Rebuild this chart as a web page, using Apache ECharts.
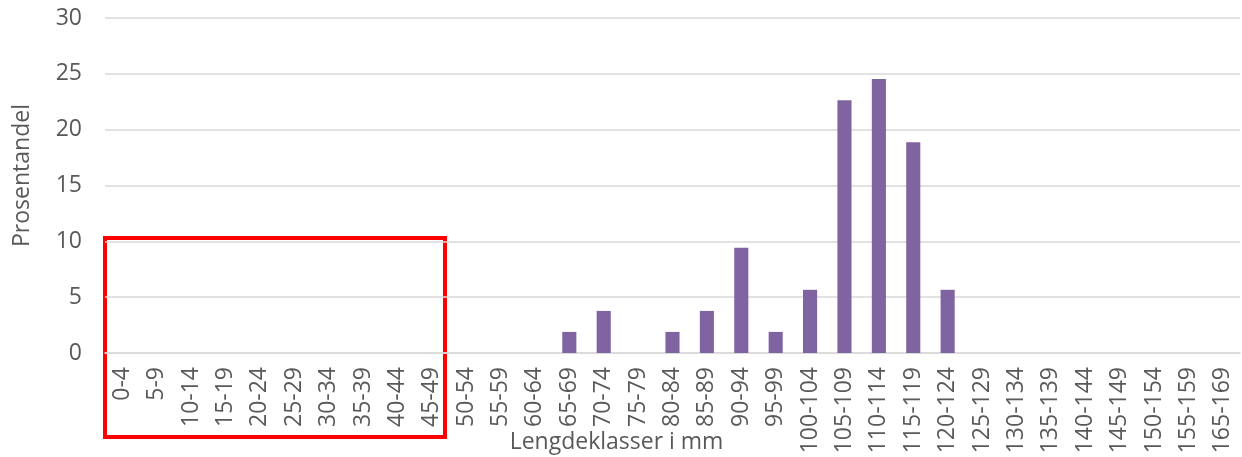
<!DOCTYPE html>
<html>
<head>
<meta charset="utf-8">
<script src="https://cdn.jsdelivr.net/npm/echarts@6/dist/echarts.min.js"></script>
<style>
html,body{margin:0;padding:0;background:#fff;}
#chart{width:1242px;height:457px;}
</style>
</head>
<body>
<div id="chart"></div>
<script>
var categories = ['0-4','5-9','10-14','15-19','20-24','25-29','30-34','35-39','40-44','45-49',
  '50-54','55-59','60-64','65-69','70-74','75-79','80-84','85-89','90-94','95-99',
  '100-104','105-109','110-114','115-119','120-124','125-129','130-134','135-139','140-144','145-149',
  '150-154','155-159','165-169'];
var values = [0,0,0,0,0,0,0,0,0,0,
  0,0,0,1.89,3.77,0,1.89,3.77,9.43,1.89,
  5.66,22.64,24.53,18.87,5.66,0,0,0,0,0,
  0,0,0];
var yTicks = {min:0, max:30, interval:5};
var xTitle = 'Lengdeklasser i mm';
var yTitle = 'Prosentandel';

var chart = echarts.init(document.getElementById('chart'));
var font = 'Open Sans';
chart.setOption({
  animation:false,
  grid:{left:105, right:2, top:18, bottom:104, containLabel:false, outerBoundsMode:'none'},
  xAxis:{
    type:'category', data:categories,
    name:xTitle, nameLocation:'middle', nameGap:78, nameMoveOverlap:false,
    nameTextStyle:{fontFamily:font, fontSize:23, color:'#595959', padding:[0,112,0,0]},
    axisLine:{lineStyle:{color:'#D9D9D9', width:1.5}},
    axisTick:{show:false},
    axisLabel:{rotate:90, interval:0, fontFamily:font, fontSize:23, color:'#595959', margin:14}
  },
  yAxis:{
    type:'value', min:yTicks.min, max:yTicks.max, interval:yTicks.interval,
    name:yTitle, nameLocation:'middle', nameGap:71, nameRotate:90, nameMoveOverlap:false,
    nameTextStyle:{fontFamily:font, fontSize:23, color:'#595959', padding:[0,0,0,20]},
    axisLine:{show:false}, axisTick:{show:false},
    axisLabel:{fontFamily:font, fontSize:23, color:'#595959', margin:23},
    splitLine:{lineStyle:{color:'#D9D9D9', width:1.5}}
  },
  series:[{
    type:'bar', data:values, barWidth:'41%',
    itemStyle:{color:'#8064A2'}
  }],
  graphic:[{
    type:'rect', shape:{x:105, y:238, width:340, height:199},
    style:{fill:null, stroke:'#FF0000', lineWidth:4}
  }]
});
</script>
</body>
</html>
